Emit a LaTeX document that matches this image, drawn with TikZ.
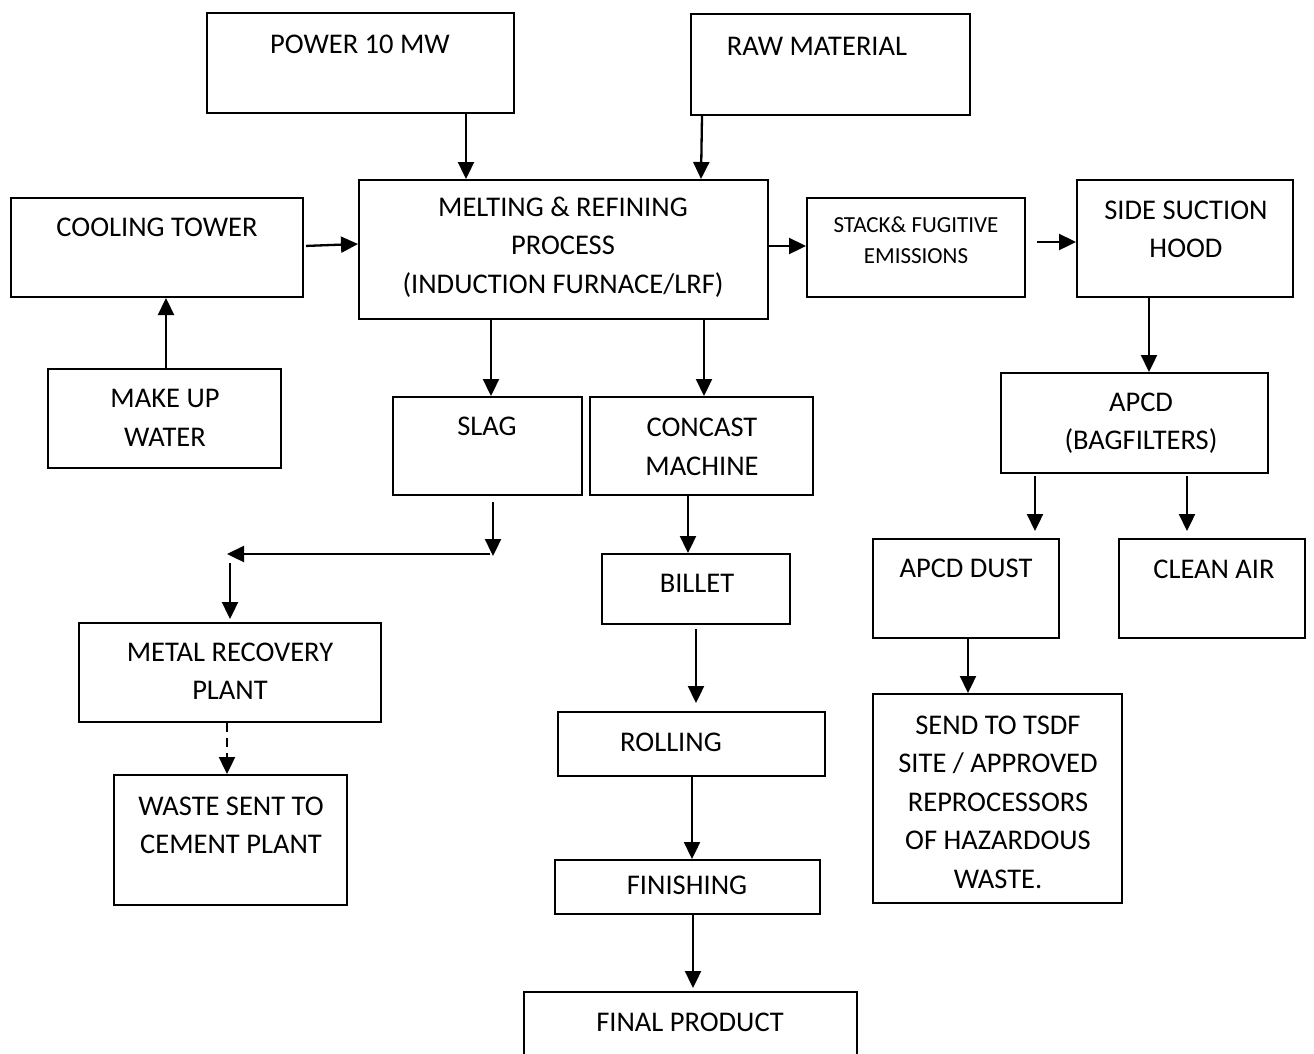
\documentclass[tikz,border=0pt]{standalone}
\usepackage{fontspec}
\setmainfont{Carlito}
\usetikzlibrary{arrows.meta}
\begin{document}
\begin{tikzpicture}[x=1pt,y=-1pt,
  bx/.style={draw,line width=2pt,inner sep=0pt},
  txt/.style={font=\fontsize{28.5}{38.5}\selectfont,align=center,inner sep=0pt},
  stxt/.style={font=\fontsize{23}{31}\selectfont,align=center,inner sep=0pt},
  arr/.style={line width=2.3pt,-{Triangle[length=17pt,width=16pt]}},
  darr/.style={arr,dash pattern=on 9pt off 6pt}]
\useasboundingbox (0,0) rectangle (1314,1053);
\newcommand\mkbox[5]{\node[bx,minimum width={#4-#2},minimum height={#5-#3}] (#1) at ({(#2+#4)/2},{(#3+#5)/2}) {};}
% boxes
\mkbox{power}{207}{13}{514}{113}
\mkbox{raw}{691}{14}{970}{115}
\mkbox{melt}{359}{180}{768}{319}
\mkbox{cool}{11}{198}{303}{297}
\mkbox{makeup}{48}{369}{281}{468}
\mkbox{stack}{807}{198}{1025}{297}
\mkbox{side}{1077}{180}{1293}{297}
\mkbox{slag}{393}{397}{582}{495}
\mkbox{concast}{590}{397}{813}{495}
\mkbox{apcd}{1001}{373}{1268}{473}
\mkbox{dust}{873}{539}{1059}{638}
\mkbox{clean}{1119}{539}{1305}{638}
\mkbox{billet}{602}{554}{790}{624}
\mkbox{metal}{79}{623}{381}{722}
\mkbox{waste}{114}{775}{347}{905}
\mkbox{rolling}{558}{712}{825}{776}
\mkbox{send}{873}{694}{1122}{903}
\mkbox{finish}{555}{860}{820}{914}
\mkbox{final}{524}{992}{857}{1070}
% texts
\node[txt] (powert) at (360,44) {POWER 10 MW};
\node[txt] (rawt) at (817,46) {RAW MATERIAL};
\node[txt] (meltt) at (563,247) {MELTING \& REFINING\\PROCESS\\(INDUCTION FURNACE/LRF)};
\node[txt] (coolt) at (157,227) {COOLING TOWER};
\node[txt] (makeupt) at (165,418) {MAKE UP\\WATER};
\node[stxt] (stackt) at (916,240) {STACK\& FUGITIVE\\EMISSIONS};
\node[txt] (sidet) at (1186,229.5) {SIDE SUCTION\\HOOD};
\node[txt] (slagt) at (487,426) {SLAG};
\node[txt] (concastt) at (702,447) {CONCAST\\MACHINE};
\node[txt] (apcdt) at (1141,423) {APCD\\(BAGFILTERS)};
\node[txt] (dustt) at (966,568) {APCD DUST};
\node[txt] (cleant) at (1214,569) {CLEAN AIR};
\node[txt] (billett) at (697,583) {BILLET};
\node[txt] (metalt) at (230,671) {METAL RECOVERY\\PLANT};
\node[txt] (wastet) at (231,825.5) {WASTE SENT TO\\CEMENT PLANT};
\node[txt] (rollingt) at (671,742) {ROLLING};
\node[txt] (sendt) at (998,802) {SEND TO TSDF\\SITE / APPROVED\\REPROCESSORS\\OF HAZARDOUS\\WASTE.};
\node[txt] (finisht) at (687,885) {FINISHING};
\node[txt] (finalt) at (690,1022) {FINAL PRODUCT};
% junction coordinates
\coordinate (j1) at (493,556);
\coordinate (j2) at (490,554);
\coordinate (j3) at (227,554);
\coordinate (j4) at (230,563);
% connectors
\draw[arr] (466,0 |- power.south) -- (466,0 |- melt.north);
\draw[arr] (702,0 |- raw.south) -- (701,0 |- melt.north);
\draw[arr,shorten <=2pt] (cool.east |- 0,246) -- (melt.west |- 0,244);
\draw[arr] (166,0 |- makeup.north) -- (166,0 |- cool.south);
\draw[arr] (melt.east |- 0,246) -- (stack.west |- 0,246);
\draw[arr,shorten <=11pt] (stack.east |- 0,242) -- (side.west |- 0,242);
\draw[arr] (491,0 |- melt.south) -- (491,0 |- slag.north);
\draw[arr] (704,0 |- melt.south) -- (704,0 |- concast.north);
\draw[arr,shorten <=6pt] (493,0 |- slag.south) -- (j1);
\draw[arr] (j2) -- (j3);
\draw[arr,shorten >=3pt] (j4) -- (230,0 |- metal.north);
\draw[darr] (227,0 |- metal.south) -- (227,0 |- waste.north);
\draw[arr] (688,0 |- concast.south) -- (688,0 |- billet.north);
\draw[arr,shorten <=4pt,shorten >=8pt] (696,0 |- billet.south) -- (696,0 |- rolling.north);
\draw[arr] (692,0 |- rolling.south) -- (692,0 |- finish.north);
\draw[arr,shorten >=3pt] (693,0 |- finish.south) -- (693,0 |- final.north);
\draw[arr] (1149,0 |- side.south) -- (1149,0 |- apcd.north);
\draw[arr,shorten <=2pt,shorten >=7pt] (1035,0 |- apcd.south) -- (1035,0 |- dust.north);
\draw[arr,shorten <=2pt,shorten >=7pt] (1187,0 |- apcd.south) -- (1187,0 |- clean.north);
\draw[arr] (968,0 |- dust.south) -- (968,0 |- send.north);
\end{tikzpicture}
\end{document}
